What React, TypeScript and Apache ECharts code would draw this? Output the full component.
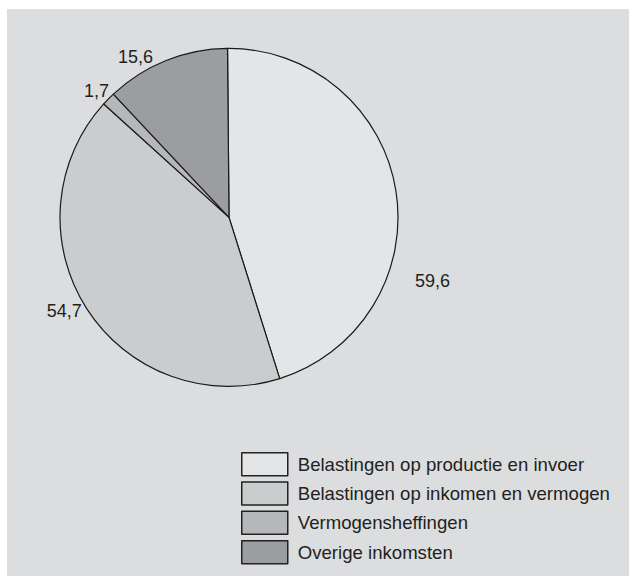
import React, { useEffect, useRef } from "react";
import * as echarts from "echarts";

const categories = [
  "Belastingen op productie en invoer",
  "Belastingen op inkomen en vermogen",
  "Vermogensheffingen",
  "Overige inkomsten",
];
const values = [59.6, 54.7, 1.7, 15.6];
const valueLabels = ["59,6", "54,7", "1,7", "15,6"];
const colors = ["#e4e5e6", "#cbcccd", "#b6b7b9", "#9c9da0"];
const labelShift = [
  [19, 90],
  [-5, 2.5],
  [0.5, -8],
  [-13, -4],
];

export default function App() {
  const ref = useRef<HTMLDivElement>(null);
  useEffect(() => {
    if (!ref.current) return;
    const chart = echarts.init(ref.current, undefined, { renderer: "svg" });
    chart.setOption({
      animation: false,
      backgroundColor: "#dcdddf",
      legend: {
        orient: "vertical",
        left: 229,
        top: 438,
        itemWidth: 46,
        itemHeight: 23,
        itemGap: 4.8,
        icon: "rect",
        data: categories,
        itemStyle: { borderColor: "#222", borderWidth: 1.5 },
        textStyle: {
          fontFamily: "Liberation Sans",
          fontSize: 18.6,
          color: "#231f20",
          padding: [9, 0, 0, 5],
        },
      },
      series: [
        {
          type: "pie",
          center: [222, 208.4],
          radius: 169,
          startAngle: 90.5,
          clockwise: true,
          avoidLabelOverlap: false,
          itemStyle: { borderColor: "#1a1a1a", borderWidth: 1.2 },
          label: {
            show: true,
            position: "outside",
            distanceToLabelLine: 0,
            fontFamily: "Liberation Sans",
            fontSize: 18,
            color: "#231f20",
            formatter: (p: any) => valueLabels[p.dataIndex],
          },
          labelLine: { show: false, length: 0, length2: 0 },
          labelLayout: (p: any) => ({
            dx: labelShift[p.dataIndex][0],
            dy: labelShift[p.dataIndex][1],
          }),
          emphasis: { disabled: true },
          data: categories.map((name, i) => ({
            name,
            value: values[i],
            itemStyle: { color: colors[i] },
          })),
        },
      ],
    });
    return () => chart.dispose();
  }, []);
  return (
    <div
      ref={ref}
      style={{ position: "absolute", left: 7, top: 9, width: 622, height: 567 }}
    />
  );
}
